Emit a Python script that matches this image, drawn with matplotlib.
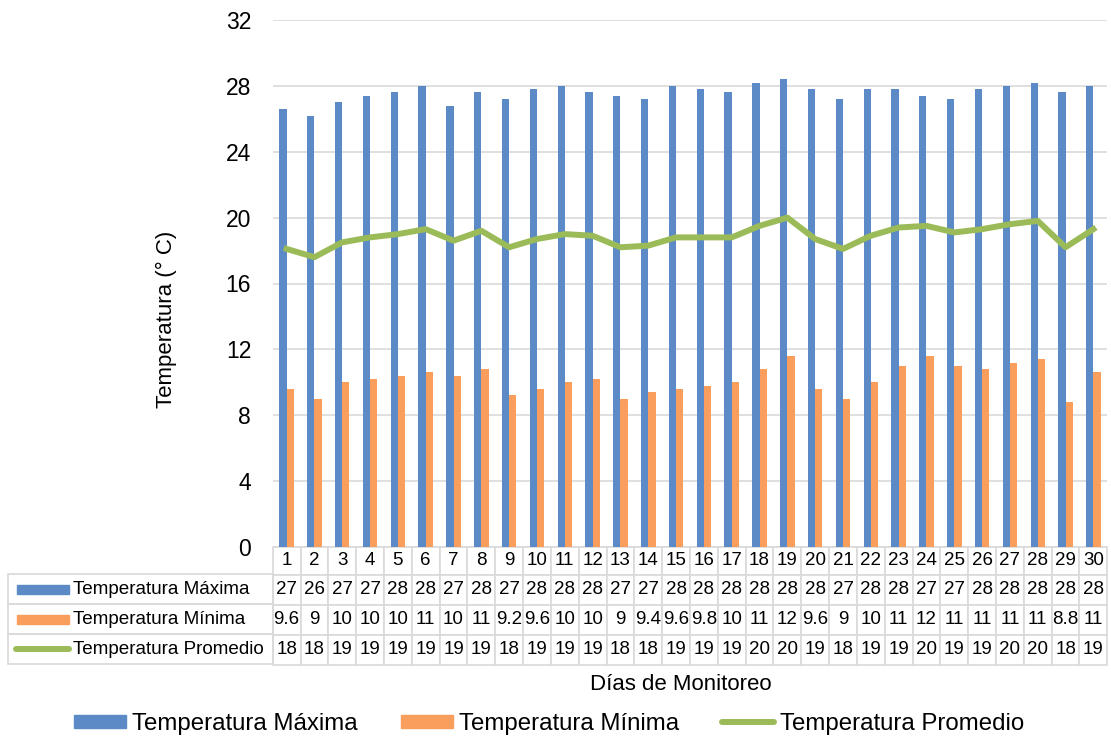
import matplotlib
matplotlib.use('Agg')
import matplotlib.pyplot as plt
from matplotlib.lines import Line2D
from matplotlib.patches import Rectangle, Patch
import math

plt.rcParams['font.family'] = ['Liberation Sans', 'DejaVu Sans']

# datos
dias = list(range(1, 31))
maxima = [26.6, 26.2, 27.0, 27.4, 27.6, 28.0, 26.8, 27.6, 27.2, 27.8,
          28.0, 27.6, 27.4, 27.2, 28.0, 27.8, 27.6, 28.2, 28.4, 27.8,
          27.2, 27.8, 27.8, 27.4, 27.2, 27.8, 28.0, 28.2, 27.6, 28.0]
minima = [9.6, 9.0, 10.0, 10.2, 10.4, 10.6, 10.4, 10.8, 9.2, 9.6,
          10.0, 10.2, 9.0, 9.4, 9.6, 9.8, 10.0, 10.8, 11.6, 9.6,
          9.0, 10.0, 11.0, 11.6, 11.0, 10.8, 11.2, 11.4, 8.8, 10.6]
promedio = [18.1, 17.6, 18.5, 18.8, 19.0, 19.3, 18.6, 19.2, 18.2, 18.7,
            19.0, 18.9, 18.2, 18.3, 18.8, 18.8, 18.8, 19.5, 20.0, 18.7,
            18.1, 18.9, 19.4, 19.5, 19.1, 19.3, 19.6, 19.8, 18.2, 19.3]
series = ['Temperatura Máxima', 'Temperatura Mínima', 'Temperatura Promedio']
yticks = [0, 4, 8, 12, 16, 20, 24, 28, 32]

c_max = '#5b8ac6'
c_min = '#f99e5c'
c_prom = '#9bbb59'
c_grid = '#d9d9d9'

W, H = 1111, 738


def fmt(v):
    # redondeo tipo Excel (2 cifras)
    if v < 10:
        s = '%.1f' % v
        return s[:-2] if s.endswith('.0') else s
    return str(int(math.floor(v + 0.5)))


def fx(px):
    return px / W


def fy(py):
    return 1 - py / H


fig = plt.figure(figsize=(W / 100, H / 100), dpi=100)
ax = fig.add_axes([fx(272.7), fy(547), fx(1107.3) - fx(272.7), fy(20) - fy(547)])

bw = 0.26
ax.bar([d - bw / 2 for d in dias], maxima, width=bw, color=c_max, zorder=2)
ax.bar([d + bw / 2 for d in dias], minima, width=bw, color=c_min, zorder=2)
ax.plot(dias, promedio, color=c_prom, lw=4.3, zorder=3, solid_joinstyle='round')

ax.set_xlim(0.5, 30.5)
ax.set_ylim(0, 32)
ax.set_yticks(yticks)
ax.set_xticks([])
ax.tick_params(axis='y', length=0, pad=15.5, labelsize=16.5)
ax.grid(axis='y', color=c_grid, lw=1.2)
ax.set_axisbelow(True)
for s in ax.spines.values():
    s.set_visible(False)

# tabla de datos
cell_text = [[fmt(v) for v in maxima],
             [fmt(v) for v in minima],
             [fmt(v) for v in promedio]]
tbl = ax.table(cellText=cell_text, colLabels=[str(d) for d in dias],
               cellLoc='center', bbox=[0, -0.2239, 1, 0.2239])
tbl.auto_set_font_size(False)
tbl.set_fontsize(13.5)
for (r, c), cell in tbl.get_celld().items():
    cell.set_edgecolor(c_grid)
    cell.set_linewidth(1.2)
    cell.set_height(28 if r == 0 else 30)
    cell.PAD = 0.02

# columna de etiquetas con claves
rows_y = [589, 619, 649]
for yy in rows_y:
    fig.add_artist(Rectangle((fx(8.3), fy(yy + 15)), fx(272.7) - fx(8.3), fy(0) - fy(30),
                             transform=fig.transFigure, facecolor='none',
                             edgecolor=c_grid, lw=1.2))
fig.add_artist(Rectangle((fx(16.7), fy(rows_y[0] + 4.5)), fx(69) - fx(16.7), fy(0) - fy(9),
                         transform=fig.transFigure, color=c_max))
fig.add_artist(Rectangle((fx(16.7), fy(rows_y[1] + 4.5)), fx(69) - fx(16.7), fy(0) - fy(9),
                         transform=fig.transFigure, color=c_min))
fig.add_artist(Line2D([fx(16), fx(69)], [fy(rows_y[2]), fy(rows_y[2])],
                      transform=fig.transFigure, color=c_prom, lw=4.3, solid_capstyle='round'))
for name, yy in zip(series, rows_y):
    fig.text(fx(73), fy(yy), name, fontsize=13.6, va='center', ha='left')

fig.text(fx(166), fy(319), 'Temperatura (° C)', rotation=90, fontsize=16,
         ha='center', va='center')
fig.text(fx(681), fy(684), 'Días de Monitoreo', fontsize=16, ha='center', va='center')

handles = [Patch(color=c_max), Patch(color=c_min),
           Line2D([], [], color=c_prom, lw=4.3, solid_capstyle='round')]
fig.legend(handles, series, loc='center', bbox_to_anchor=(fx(549), fy(724)),
           ncol=3, frameon=False, fontsize=17.3, handlelength=2.16, handleheight=0.5,
           handletextpad=0.25, columnspacing=1.8, borderaxespad=0)

fig.savefig('out.png', dpi=100)
